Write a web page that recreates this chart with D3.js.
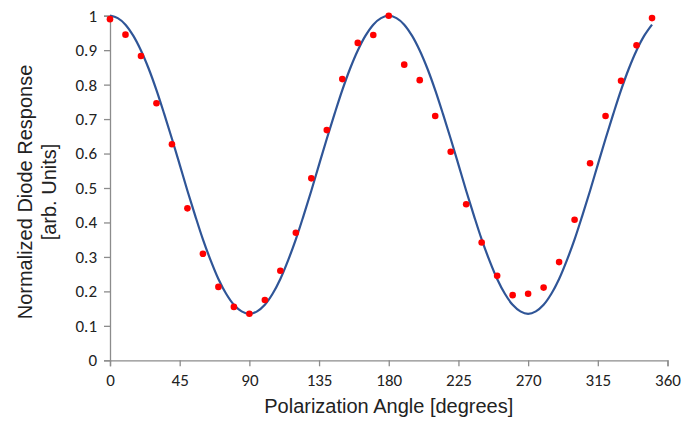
<!DOCTYPE html>
<html>
<head>
<meta charset="utf-8">
<script src="https://cdn.jsdelivr.net/npm/d3@7"></script>
<style>
  body { margin: 0; background: #fff; }
  svg text { fill: #222; }
</style>
</head>
<body>
<svg id="chart" width="699" height="427"></svg>
<script>
// measured points, every 10 degrees
const measAngles = [0, 10, 20, 30, 40, 50, 60, 70, 80, 90, 100, 110, 120, 130, 140, 150, 160, 170,
  180, 190, 200, 210, 220, 230, 240, 250, 260, 270, 280, 290, 300, 310, 320, 330, 340, 350];
const measValues = [0.990, 0.945, 0.883, 0.746, 0.627, 0.441, 0.309, 0.213, 0.155, 0.135, 0.175, 0.260,
  0.370, 0.528, 0.668, 0.816, 0.921, 0.944, 1.000, 0.858, 0.813, 0.709, 0.605, 0.453,
  0.342, 0.245, 0.189, 0.193, 0.211, 0.285, 0.408, 0.572, 0.709, 0.811, 0.914, 0.993];

// fitted curve, read every 5 degrees
const fitAngles = d3.range(0, 355, 5);
const fitValues = [1.000, 0.993, 0.974, 0.942, 0.899, 0.846, 0.784, 0.715, 0.643, 0.568, 0.492, 0.420,
  0.351, 0.290, 0.236, 0.193, 0.161, 0.142, 0.135, 0.142, 0.161, 0.193, 0.236, 0.290,
  0.351, 0.420, 0.492, 0.568, 0.643, 0.715, 0.784, 0.846, 0.899, 0.942, 0.974, 0.993,
  1.000, 0.993, 0.974, 0.942, 0.899, 0.846, 0.784, 0.715, 0.643, 0.568, 0.492, 0.420,
  0.351, 0.290, 0.236, 0.193, 0.161, 0.142, 0.135, 0.142, 0.161, 0.193, 0.236, 0.290,
  0.351, 0.420, 0.492, 0.568, 0.643, 0.715, 0.784, 0.846, 0.899, 0.942, 0.974];

const xTicks = [0, 45, 90, 135, 180, 225, 270, 315, 360];
const yTicks = [0, 0.1, 0.2, 0.3, 0.4, 0.5, 0.6, 0.7, 0.8, 0.9, 1];

const svg = d3.select("#chart");
const x = d3.scaleLinear().domain([0, 360]).range([110, 667.5]);
const y = d3.scaleLinear().domain([0, 1]).range([360.3, 15.7]);
const axisColor = "#8c8c8c";
const tickFont = "Carlito, Lato, 'Open Sans', sans-serif";
const titleFont = "'Liberation Sans', Arial, sans-serif";

const xAxis = svg.append("g")
  .attr("transform", `translate(0,${y(0)})`)
  .call(d3.axisBottom(x).tickValues(xTicks).tickSize(6).tickPadding(8).tickFormat(d3.format("d")));
const yAxis = svg.append("g")
  .attr("transform", `translate(${x(0)},0)`)
  .call(d3.axisLeft(y).tickValues(yTicks).tickSize(6).tickPadding(7).tickFormat(d => d === 0 || d === 1 ? d : d3.format(".1f")(d)));

[xAxis, yAxis].forEach(a => {
  a.select(".domain").attr("stroke", axisColor).attr("stroke-width", 1.3);
  a.selectAll(".tick line").attr("stroke", axisColor).attr("stroke-width", 1.3);
  a.selectAll(".tick text")
    .attr("font-family", tickFont)
    .attr("font-size", 17)
    .attr("fill", "#222");
});

const line = d3.line()
  .x((d, i) => x(fitAngles[i]))
  .y(d => y(d))
  .curve(d3.curveCatmullRom);

svg.append("path")
  .datum(fitValues)
  .attr("d", line)
  .attr("fill", "none")
  .attr("stroke", "#2f5597")
  .attr("stroke-width", 2.2);

svg.append("g").selectAll("circle")
  .data(measValues)
  .join("circle")
  .attr("cx", (d, i) => x(measAngles[i]))
  .attr("cy", d => y(d))
  .attr("r", 3.3)
  .attr("fill", "#ff0000");

svg.append("text")
  .attr("x", (x(0) + x(360)) / 2)
  .attr("y", 413)
  .attr("text-anchor", "middle")
  .attr("font-family", titleFont)
  .attr("font-size", 20)
  .text("Polarization Angle [degrees]");

const yTitle = svg.append("text")
  .attr("transform", "translate(0,192) rotate(-90)")
  .attr("text-anchor", "middle")
  .attr("font-family", titleFont)
  .attr("font-size", 20);
yTitle.append("tspan").attr("x", 0).attr("y", 32).text("Normalized Diode Response");
yTitle.append("tspan").attr("x", 0).attr("y", 56).text("[arb. Units]");
</script>
</body>
</html>
